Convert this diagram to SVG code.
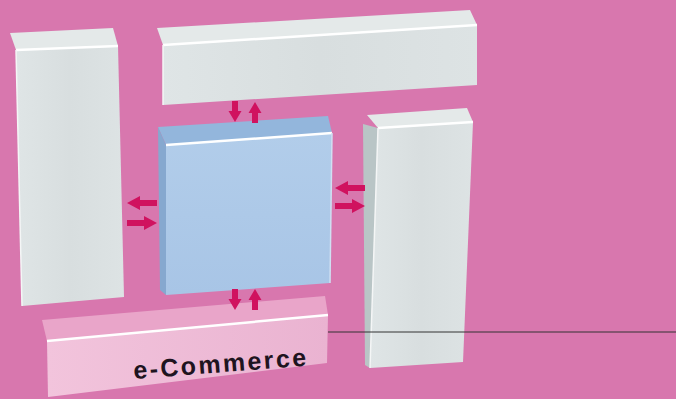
<svg xmlns="http://www.w3.org/2000/svg" width="676" height="399" viewBox="0 0 676 399">
<defs>
<style>
.gtop{fill:#e4e9e9}
.gfront{fill:url(#gf)}
.gside{fill:#b9c5c6}
.hl{stroke:#ffffff;stroke-width:2.5;fill:none}
.arrow{fill:#d0125f}
.txt{font-family:"Liberation Sans",Arial,sans-serif;font-weight:bold;font-size:25px;fill:#1e1420;letter-spacing:2.4px}
</style>
<linearGradient id="gf" x1="0" y1="0" x2="1" y2="0">
<stop offset="0" stop-color="#dfe5e6"/>
<stop offset="0.5" stop-color="#d8dedf"/>
<stop offset="1" stop-color="#dde3e4"/>
</linearGradient>
<linearGradient id="bf" x1="0" y1="0" x2="0" y2="1">
<stop offset="0" stop-color="#b2cdea"/>
<stop offset="1" stop-color="#a8c5e6"/>
</linearGradient>
<linearGradient id="pf" x1="0" y1="0" x2="1" y2="0">
<stop offset="0" stop-color="#f2c4dc"/>
<stop offset="1" stop-color="#eab3d1"/>
</linearGradient>
<path id="ah" d="M0,-3 H17 V-7 L30,0 L17,7 V3 H0 Z"/>
<path id="av" d="M0,-3 H10 V-6.5 L21,0 L10,6.5 V3 H0 Z"/>
</defs>
<rect width="676" height="399" fill="#d877ae"/>

<g id="left-box">
<polygon class="gtop" points="10,33 113,28 118,46 16,50"/>
<polygon class="gfront" points="16,50 118,46 124,297 22,306"/>
<polyline class="hl" points="16,50 118,46"/>
<line x1="16" y1="50" x2="22" y2="306" stroke="#f4f6f6" stroke-width="1.5"/>
</g>

<g id="top-box">
<polygon class="gtop" points="157,28 470,10 477,25 163,45"/>
<polygon class="gfront" points="163,45 477,25 477,85 163,105"/>
<polyline class="hl" points="163,45 477,25"/>
<line x1="163" y1="45" x2="163" y2="105" stroke="#f4f6f6" stroke-width="1.5"/>
</g>

<g id="center-box">
<polygon fill="#93b6dc" points="158,127 328,116 332,133 166,145"/>
<polygon fill="#86a8cf" points="158,127 166,145 166,295 160,290"/>
<polygon fill="url(#bf)" points="166,145 332,133 330,283 166,295"/>
<polyline class="hl" points="166,145 332,133"/>
<line x1="332" y1="133" x2="330" y2="283" stroke="#d0e0f2" stroke-width="1.5"/>
</g>

<g id="right-box">
<polygon class="gtop" points="367,115 467,108 473,122 378,128"/>
<polygon class="gside" points="363,124 378,128 370,368 365,365"/>
<polygon class="gfront" points="378,128 473,122 463,362 370,368"/>
<polyline class="hl" points="378,128 473,122"/>
<line x1="378" y1="128" x2="370" y2="368" stroke="#f4f6f6" stroke-width="1.5"/>
</g>

<g id="ecommerce-box">
<polygon fill="#e9a5c9" points="42,320 325,296 328,315 47,341"/>
<polygon fill="url(#pf)" points="47,341 328,315 327,363 48,397"/>
<polyline class="hl" points="47,341 328,315"/>
<text class="txt" x="134" y="379" transform="rotate(-4.4 134 379)">e-Commerce</text>
</g>

<g id="connectors">
<use href="#ah" class="arrow" transform="translate(157,203) rotate(180)"/>
<use href="#ah" class="arrow" transform="translate(127,223)"/>
<use href="#ah" class="arrow" transform="translate(365,188) rotate(180)"/>
<use href="#ah" class="arrow" transform="translate(335,206)"/>
<use href="#av" class="arrow" transform="translate(235,101) rotate(90)"/>
<use href="#av" class="arrow" transform="translate(255,123) rotate(-90)"/>
<use href="#av" class="arrow" transform="translate(235,289) rotate(90)"/>
<use href="#av" class="arrow" transform="translate(255,310) rotate(-90)"/>
<line x1="328" y1="332" x2="676" y2="332" stroke="#333333" stroke-width="1"/>
</g>
</svg>
